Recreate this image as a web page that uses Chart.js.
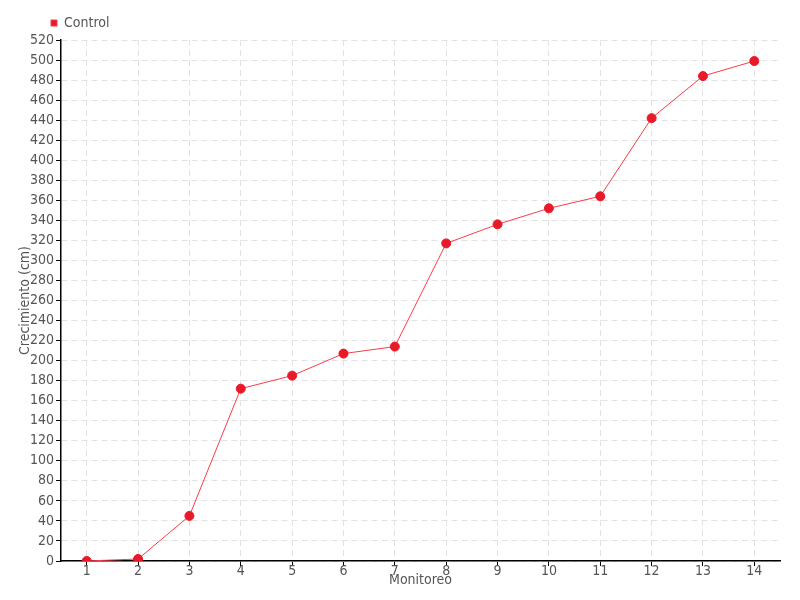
<!DOCTYPE html>
<html>
<head>
<meta charset="utf-8">
<script src="https://cdn.jsdelivr.net/npm/chart.js@4/dist/chart.umd.min.js"></script>
<style>
  body { margin: 0; background: #fff; }
  #wrap { width: 800px; height: 600px; }
</style>
</head>
<body>
<div id="wrap"><canvas id="growthChart" width="800" height="600"></canvas></div>
<script>
// data
let monitoreo = ["1", "2", "3", "4", "5", "6", "7", "8", "9", "10", "11", "12", "13", "14"];
let controlData = [0, 2, 45, 172, 185, 207, 214, 317, 336, 352, 364, 442, 484, 499];

let labelFont = { family: "'DejaVu Sans Condensed', 'Liberation Sans Narrow', sans-serif", size: 14, lineHeight: 1.0 };

// push the legend over so it sits above the y axis like the original
let legendShift = {
  id: 'legendShift',
  beforeDraw: function(chart) {
    if (!chart.legend._shifted) {
      chart.legend.left += 33;
      chart.legend._shifted = true;
    }
  },
  afterLayout: function(chart) {
    chart.legend._shifted = false;
  }
};

let ctx = document.getElementById('growthChart').getContext('2d');

var growthChart = new Chart(ctx, {
  type: 'line',
  data: {
    labels: monitoreo,
    datasets: [
      {
        label: 'Control',
        data: controlData,
        borderColor: 'rgb(250, 60, 75)',
        borderWidth: 1,
        backgroundColor: 'rgb(232, 25, 40)',
        pointBackgroundColor: 'rgb(232, 25, 40)',
        pointBorderColor: 'rgb(232, 25, 40)',
        pointRadius: 4.5,
        tension: 0,
        fill: false
      }
    ]
  },
  plugins: [legendShift],
  options: {
    responsive: false,
    animation: false,
    layout: { padding: { left: 14, right: 20, top: 12, bottom: 13 } },
    plugins: {
      legend: {
        align: 'start',
        labels: {
          font: labelFont,
          color: '#555',
          boxWidth: 6,
          boxHeight: 6,
          padding: 4
        }
      },
      tooltip: { enabled: false }
    },
    scales: {
      x: {
        offset: true,
        title: { display: true, text: 'Monitoreo', font: labelFont, color: '#555', padding: { top: -3, bottom: 0 } },
        ticks: { font: labelFont, color: '#555', padding: -2, maxRotation: 0, autoSkip: false },
        grid: { color: '#e2e2e2', tickColor: '#000', tickLength: 5 },
        border: { color: '#000', width: 1.5, dash: [6, 4] }
      },
      y: {
        min: 0,
        max: 520,
        title: { display: true, text: 'Crecimiento (cm)', font: labelFont, color: '#555', padding: { top: 4, bottom: -4 } },
        ticks: { stepSize: 20, font: labelFont, color: '#555', padding: 2, autoSkip: false },
        grid: { color: '#e2e2e2', tickColor: '#000', tickLength: 5 },
        border: { color: '#000', width: 1.5, dash: [6, 4] }
      }
    }
  }
});
</script>
</body>
</html>
